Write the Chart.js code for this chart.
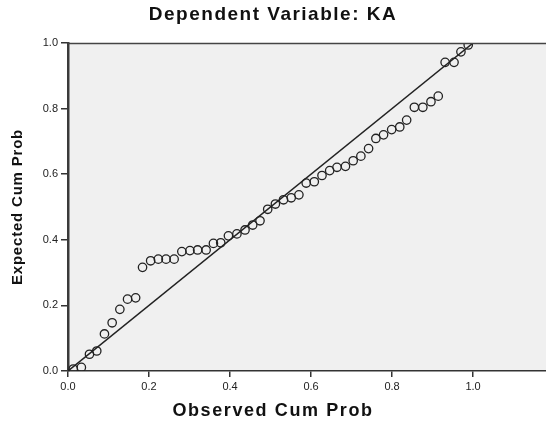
<!DOCTYPE html>
<html>
<head>
<meta charset="utf-8">
<title>P-P Plot</title>
<script src="https://cdn.jsdelivr.net/npm/chart.js@4/dist/chart.umd.min.js"></script>
<style>
  html, body { margin: 0; padding: 0; background: #fff; }
  #wrap { width: 546px; height: 426px; }
</style>
</head>
<body>
<div id="wrap"><canvas id="ppChart" width="546" height="426"></canvas></div>
<script>
// ====================================================================
// NORMAL P-P PLOT OF REGRESSION STANDARDIZED RESIDUAL
// ====================================================================

const chartTitle = 'Dependent Variable: KA';
const xTitle = 'Observed Cum Prob';
const yTitle = 'Expected Cum Prob';

const xTicks = [0.0, 0.2, 0.4, 0.6, 0.8, 1.0];
const yTicks = [0.0, 0.2, 0.4, 0.6, 0.8, 1.0];

// observed cumulative probability (x)
const obsCum = [
  0.013, 0.033, 0.053, 0.071, 0.090, 0.109, 0.128, 0.147, 0.167, 0.184,
  0.204, 0.223, 0.242, 0.262, 0.281, 0.301, 0.320, 0.341, 0.359, 0.377,
  0.396, 0.417, 0.437, 0.456, 0.474, 0.493, 0.512, 0.532, 0.551, 0.570,
  0.588, 0.608, 0.627, 0.646, 0.664, 0.685, 0.704, 0.723, 0.742, 0.760,
  0.779, 0.799, 0.819, 0.836, 0.855, 0.876, 0.896, 0.914, 0.931, 0.953,
  0.970, 0.988
];

// expected cumulative probability (y)
const expCum = [
  0.006, 0.011, 0.051, 0.061, 0.113, 0.147, 0.188, 0.219, 0.223, 0.316,
  0.336, 0.341, 0.341, 0.341, 0.364, 0.367, 0.369, 0.369, 0.389, 0.391,
  0.412, 0.418, 0.430, 0.445, 0.458, 0.493, 0.509, 0.522, 0.528, 0.537,
  0.573, 0.577, 0.596, 0.611, 0.621, 0.624, 0.641, 0.655, 0.678, 0.709,
  0.720, 0.736, 0.744, 0.765, 0.804, 0.804, 0.821, 0.838, 0.941, 0.941,
  0.973, 0.994
];

// diagonal reference line
const refLineX = [0, 1];
const refLineY = [0, 1];

const ink = '#222222';
const plotBg = '#f0f0f0';

// background, top border and text labels
const framePlugin = {
  id: 'frame',
  beforeDraw(chart) {
    const { ctx, chartArea: a } = chart;
    ctx.save();
    ctx.fillStyle = '#ffffff';
    ctx.fillRect(0, 0, chart.width, chart.height);
    ctx.fillStyle = plotBg;
    ctx.fillRect(a.left, a.top, a.right - a.left, a.bottom - a.top);
    ctx.restore();
  },
  afterDraw(chart) {
    const { ctx, chartArea: a } = chart;
    ctx.save();
    // top border of plot
    ctx.strokeStyle = '#444444';
    ctx.lineWidth = 1.5;
    ctx.beginPath();
    ctx.moveTo(a.left, a.top + 0.5);
    ctx.lineTo(a.right, a.top + 0.5);
    ctx.stroke();

    ctx.fillStyle = '#111111';
    ctx.textAlign = 'center';
    ctx.textBaseline = 'middle';

    ctx.font = 'bold 19px "Liberation Sans", Arial, sans-serif';
    ctx.letterSpacing = '1.5px';
    ctx.fillText(chartTitle, 273, 15);

    ctx.font = 'bold 18px "Liberation Sans", Arial, sans-serif';
    ctx.letterSpacing = '1.6px';
    ctx.fillText(xTitle, 273, 411);

    ctx.translate(18, 207);
    ctx.rotate(-Math.PI / 2);
    ctx.font = 'bold 15px "Liberation Sans", Arial, sans-serif';
    ctx.letterSpacing = '0.8px';
    ctx.fillText(yTitle, 0, 0);
    ctx.restore();
  }
};

function initPPChart() {
  const canvas = document.getElementById('ppChart');
  if (!canvas) {
    console.warn('canvas #ppChart not found');
    return;
  }

  const points = obsCum.map((x, i) => ({ x: x, y: expCum[i] }));
  const diag = refLineX.map((x, i) => ({ x: x, y: refLineY[i] }));

  new Chart(canvas.getContext('2d'), {
    type: 'scatter',
    data: {
      datasets: [
        {
          type: 'line',
          data: diag,
          borderColor: ink,
          borderWidth: 1.5,
          pointRadius: 0,
          fill: false,
          order: 2
        },
        {
          data: points,
          pointStyle: 'circle',
          pointRadius: 4.2,
          pointBorderWidth: 1.3,
          borderColor: ink,
          backgroundColor: 'rgba(0,0,0,0)',
          order: 1
        }
      ]
    },
    options: {
      responsive: false,
      animation: false,
      layout: { autoPadding: false, padding: { top: 43, left: 0, right: 0, bottom: 0 } },
      plugins: {
        legend: { display: false },
        tooltip: { enabled: false }
      },
      scales: {
        x: {
          type: 'linear',
          min: 0,
          max: 1.18,
          afterBuildTicks: scale => { scale.ticks = xTicks.map(v => ({ value: v })); },
          afterFit: scale => {
            scale.height = 55;
            scale.paddingRight = 0;
            scale.paddingLeft = 0;
          },
          grid: { drawOnChartArea: false, drawTicks: true, tickLength: 6, color: '#333333', lineWidth: 1.5 },
          border: { display: true, color: '#333333', width: 1.5 },
          ticks: {
            padding: 3,
            color: ink,
            font: { family: '"Liberation Sans", Arial, sans-serif', size: 11 },
            callback: v => Number(v).toFixed(1)
          }
        },
        y: {
          type: 'linear',
          min: 0,
          max: 1,
          afterBuildTicks: scale => { scale.ticks = yTicks.map(v => ({ value: v })); },
          afterFit: scale => { scale.width = 68; },
          grid: { drawOnChartArea: false, drawTicks: true, tickLength: 7, color: '#333333', lineWidth: 1.5 },
          border: { display: true, color: '#3a3a3a', width: 2.5 },
          ticks: {
            padding: 3,
            color: ink,
            font: { family: '"Liberation Sans", Arial, sans-serif', size: 11 },
            callback: v => Number(v).toFixed(1)
          }
        }
      }
    },
    plugins: [framePlugin]
  });
}

document.addEventListener('DOMContentLoaded', initPPChart);
</script>
</body>
</html>
